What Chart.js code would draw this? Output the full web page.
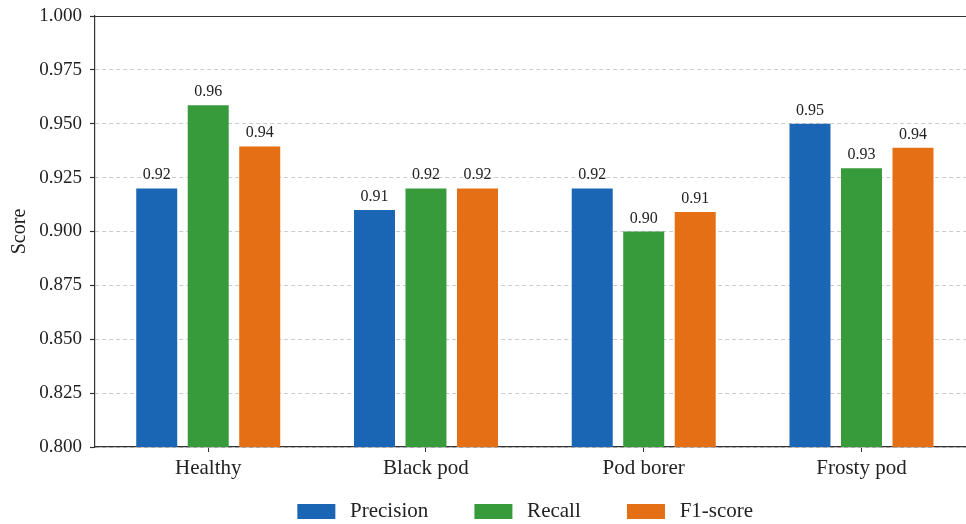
<!DOCTYPE html>
<html>
<head>
<meta charset="utf-8">
<script src="https://cdn.jsdelivr.net/npm/chart.js@4.4.1/dist/chart.umd.min.js"></script>
<style>
  html, body { margin: 0; padding: 0; background: #ffffff; overflow: hidden; }
  #wrap { width: 966px; height: 524px; position: relative; }
</style>
</head>
<body>
<div id="wrap"><canvas id="c" width="966" height="524"></canvas></div>
<script>
const categories = ["Healthy", "Black pod", "Pod borer", "Frosty pod"];
const precision = [0.920, 0.910, 0.920, 0.950];
const recall    = [0.9586, 0.920, 0.900, 0.9294];
const f1score   = [0.9395, 0.920, 0.909, 0.9389];
const seriesNames = ["Precision", "Recall", "F1-score"];
const seriesColors = ["#1b65b5", "#379a3b", "#e56f14"];
const yMin = 0.800, yMax = 1.000, yStep = 0.025;

const SERIF = "'Liberation Serif', 'Times New Roman', serif";
const seriesData = [precision, recall, f1score];

const labelPlugin = {
  id: 'barLabels',
  afterDatasetsDraw(chart) {
    const ctx = chart.ctx;
    ctx.save();
    ctx.font = "16px " + SERIF;
    ctx.fillStyle = "#222";
    ctx.textAlign = "center";
    ctx.textBaseline = "alphabetic";
    chart.data.datasets.forEach((ds, di) => {
      const meta = chart.getDatasetMeta(di);
      meta.data.forEach((bar, i) => {
        ctx.fillText(ds.data[i].y.toFixed(2), bar.x, bar.y - 9);
      });
    });
    ctx.restore();
  }
};

const framePlugin = {
  id: 'topFrame',
  afterDraw(chart) {
    const {ctx, chartArea} = chart;
    ctx.save();
    ctx.strokeStyle = "#333";
    ctx.lineWidth = 1.2;
    ctx.beginPath();
    ctx.moveTo(chartArea.left, chartArea.top + 0.5);
    ctx.lineTo(chartArea.right, chartArea.top + 0.5);
    ctx.stroke();
    ctx.restore();
  }
};

new Chart(document.getElementById('c'), {
  type: 'bar',
  data: {
    datasets: seriesNames.map((name, k) => ({
      label: name,
      data: categories.map((c, i) => ({ x: i, y: seriesData[k][i] })),
      backgroundColor: seriesColors[k],
      borderWidth: 0,
      categoryPercentage: 0.7095,
      barPercentage: 0.796
    }))
  },
  options: {
    responsive: false,
    animation: false,
    devicePixelRatio: 1,
    layout: { padding: { top: 16, right: 0, bottom: -8, left: 0 } },
    plugins: {
      tooltip: { enabled: false },
      legend: {
        position: 'bottom',
        fullSize: false,
        labels: {
          boxWidth: 38,
          boxHeight: 15,
          padding: 21,
          color: "#222",
          font: { family: SERIF, size: 21 },
          generateLabels(chart) {
            const n = chart.data.datasets.length;
            return chart.data.datasets.map((ds, i) => ({
              text: "\u2009" + ds.label + (i < n - 1 ? "\u2002\u2002\u2009" : "\u2002"),
              fillStyle: ds.backgroundColor,
              strokeStyle: ds.backgroundColor,
              lineWidth: 0,
              hidden: false,
              datasetIndex: i,
              fontColor: "#222"
            }));
          }
        }
      }
    },
    scales: {
      x: {
        type: 'linear',
        min: -0.52,
        max: 3.48,
        offset: false,
        grid: {
          offset: false,
          drawOnChartArea: false,
          drawTicks: true,
          tickLength: 5,
          color: "#333"
        },
        border: { display: true, color: "#333", width: 1.2 },
        ticks: {
          autoSkip: false,
          maxRotation: 0,
          color: "#222",
          padding: 4,
          font: { family: SERIF, size: 21 },
          callback: (v) => (categories[Math.round(v)] !== undefined) ? categories[Math.round(v)] : ''
        },
        afterBuildTicks(scale) {
          scale.ticks = categories.map((c, i) => ({ value: i }));
        },
        afterFit(scale) { scale.height = 33; }
      },
      y: {
        min: yMin,
        max: yMax,
        grid: {
          color: "#cccccc",
          lineWidth: 1,
          tickLength: 5,
          tickColor: "#333",
          tickBorderDash: [],
          tickWidth: 1.2
        },
        border: { display: true, color: "#333", width: 1.2, dash: [4, 3] },
        ticks: {
          stepSize: yStep,
          color: "#222",
          padding: 8,
          font: { family: SERIF, size: 19 },
          callback: (v) => Number(v).toFixed(3)
        },
        title: {
          display: true,
          text: "Score",
          color: "#222",
          font: { family: SERIF, size: 20 },
          padding: { top: 8, bottom: 0 }
        },
        afterFit(scale) {
          scale.width = 95;
          scale.paddingTop = 10;
          scale.paddingBottom = 10;
        }
      }
    }
  },
  plugins: [labelPlugin, framePlugin]
});
</script>
</body>
</html>
